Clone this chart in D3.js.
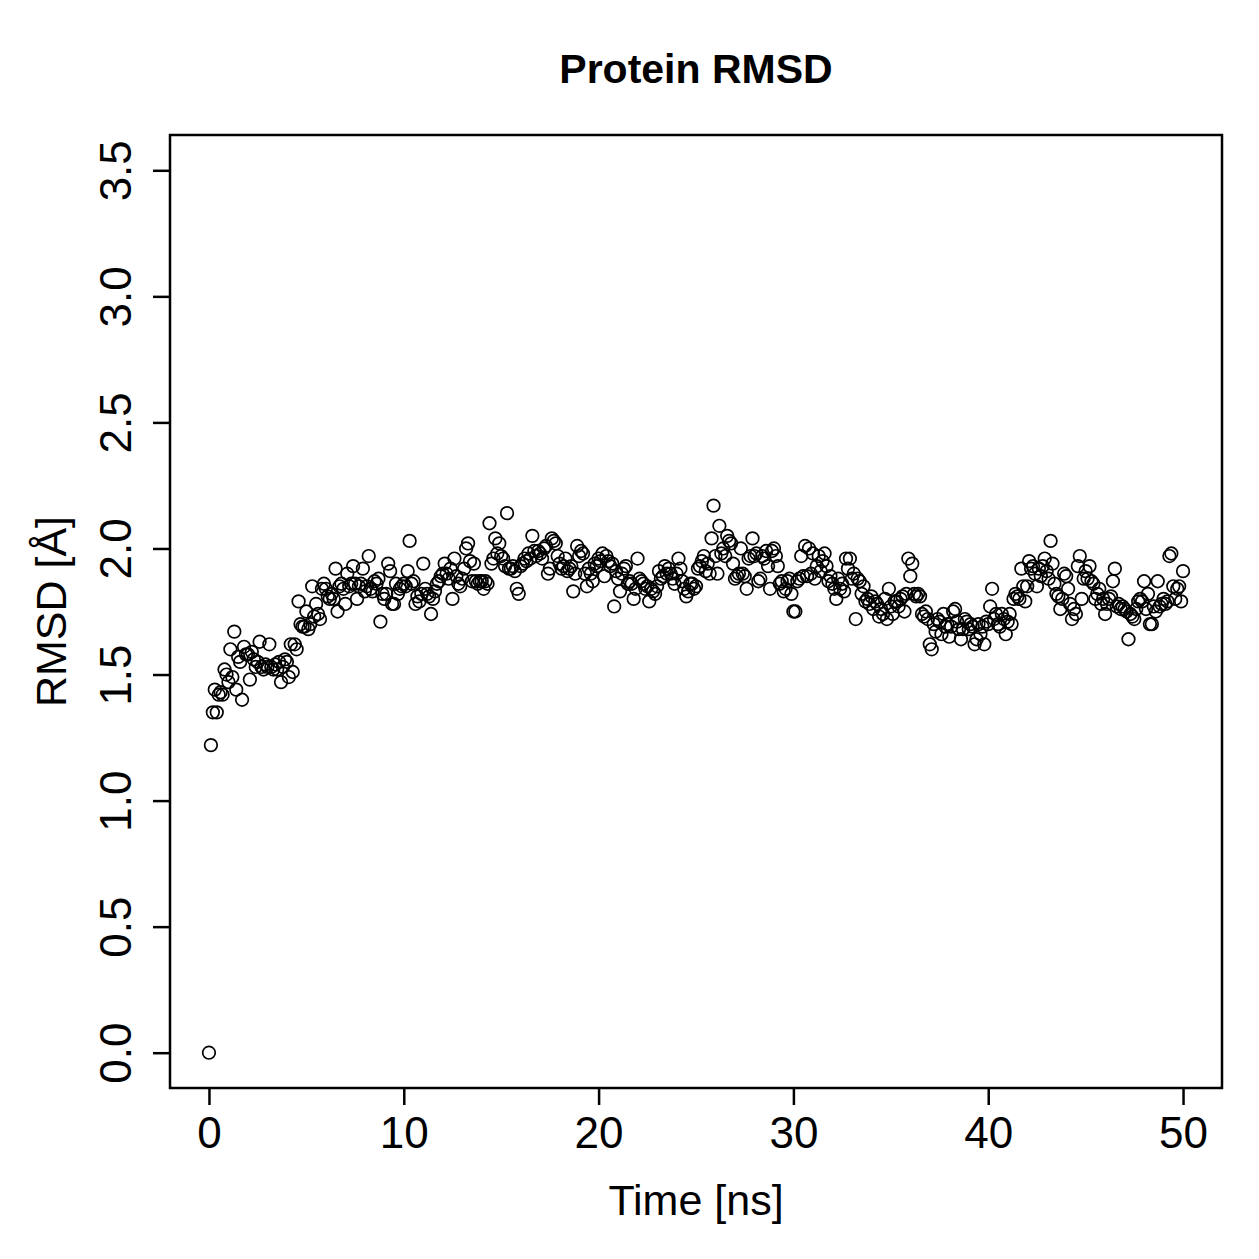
<!DOCTYPE html>
<html>
<head>
<meta charset="utf-8">
<script src="https://cdn.jsdelivr.net/npm/d3@7"></script>
<style>
  body { margin: 0; background: #fff; }
  text { font-family: "Liberation Sans", Arial, sans-serif; fill: #000; }
</style>
</head>
<body>
<svg id="chart" width="1259" height="1259"></svg>
<script>
// RMSD samples, one row per ns (10 frames, 0.1 ns apart)
const rmsd00 = [0.00, 1.22, 1.35, 1.44, 1.35, 1.42, 1.43, 1.42, 1.52, 1.50];
const rmsd01 = [1.47, 1.60, 1.49, 1.67, 1.44, 1.57, 1.55, 1.40, 1.61, 1.58];
const rmsd02 = [1.58, 1.48, 1.59, 1.56, 1.53, 1.55, 1.63, 1.53, 1.52, 1.54];
const rmsd03 = [1.53, 1.62, 1.53, 1.52, 1.54, 1.52, 1.55, 1.47, 1.53, 1.56];
const rmsd04 = [1.55, 1.49, 1.62, 1.51, 1.62, 1.60, 1.79, 1.70, 1.69, 1.69];
const rmsd05 = [1.75, 1.68, 1.70, 1.85, 1.73, 1.78, 1.74, 1.72, 1.84, 1.86];
const rmsd06 = [1.84, 1.81, 1.80, 1.82, 1.80, 1.92, 1.75, 1.85, 1.86, 1.84];
const rmsd07 = [1.78, 1.90, 1.85, 1.86, 1.93, 1.86, 1.80, 1.85, 1.86, 1.92];
const rmsd08 = [1.83, 1.85, 1.97, 1.84, 1.83, 1.87, 1.86, 1.88, 1.71, 1.82];
const rmsd09 = [1.80, 1.82, 1.94, 1.91, 1.78, 1.78, 1.86, 1.82, 1.84, 1.85];
const rmsd10 = [1.86, 1.85, 1.91, 2.03, 1.86, 1.87, 1.78, 1.81, 1.79, 1.82];
const rmsd11 = [1.94, 1.84, 1.82, 1.81, 1.74, 1.80, 1.83, 1.86, 1.87, 1.89];
const rmsd12 = [1.90, 1.94, 1.90, 1.88, 1.92, 1.80, 1.96, 1.89, 1.86, 1.85];
const rmsd13 = [1.88, 1.92, 2.00, 2.02, 1.95, 1.87, 1.94, 1.87, 1.86, 1.87];
const rmsd14 = [1.87, 1.84, 1.87, 1.86, 2.10, 1.94, 1.96, 2.04, 1.98, 2.02];
const rmsd15 = [1.97, 1.96, 1.93, 2.14, 1.92, 1.92, 1.93, 1.91, 1.84, 1.82];
const rmsd16 = [1.93, 1.94, 1.96, 1.95, 1.98, 1.96, 2.05, 1.99, 1.97, 1.99];
const rmsd17 = [1.98, 1.96, 2.00, 2.01, 1.90, 1.92, 2.04, 2.03, 2.02, 1.97];
const rmsd18 = [1.94, 1.92, 1.93, 1.96, 1.91, 1.92, 1.93, 1.83, 1.90, 2.01];
const rmsd19 = [1.97, 1.99, 1.98, 1.90, 1.85, 1.92, 1.90, 1.87, 1.94, 1.93];
const rmsd20 = [1.96, 1.95, 1.98, 1.89, 1.97, 1.95, 1.93, 1.94, 1.77, 1.91];
const rmsd21 = [1.88, 1.83, 1.90, 1.92, 1.93, 1.86, 1.87, 1.86, 1.80, 1.84];
const rmsd22 = [1.96, 1.88, 1.87, 1.86, 1.84, 1.85, 1.79, 1.84, 1.83, 1.82];
const rmsd23 = [1.85, 1.91, 1.88, 1.89, 1.93, 1.90, 1.92, 1.90, 1.88, 1.86];
const rmsd24 = [1.90, 1.96, 1.92, 1.87, 1.84, 1.81, 1.83, 1.86, 1.86, 1.84];
const rmsd25 = [1.85, 1.92, 1.93, 1.95, 1.97, 1.91, 1.94, 1.90, 2.04, 2.17];
const rmsd26 = [1.97, 1.90, 2.09, 1.98, 2.00, 1.97, 2.05, 2.03, 2.02, 1.94];
const rmsd27 = [1.88, 1.89, 1.90, 2.00, 1.90, 1.89, 1.84, 1.96, 1.97, 2.04];
const rmsd28 = [1.97, 1.98, 1.87, 1.88, 1.97, 1.96, 1.99, 1.93, 1.84, 1.99];
const rmsd29 = [2.00, 1.97, 1.93, 1.86, 1.87, 1.83, 1.84, 1.87, 1.88, 1.82];
const rmsd30 = [1.75, 1.75, 1.87, 1.88, 1.97, 1.89, 2.01, 1.89, 2.00, 1.90];
const rmsd31 = [1.98, 1.88, 1.93, 1.97, 1.91, 1.95, 1.98, 1.93, 1.87, 1.89];
const rmsd32 = [1.86, 1.84, 1.80, 1.88, 1.84, 1.86, 1.83, 1.96, 1.92, 1.96];
const rmsd33 = [1.88, 1.90, 1.72, 1.88, 1.87, 1.82, 1.85, 1.79, 1.80, 1.78];
const rmsd34 = [1.81, 1.76, 1.79, 1.78, 1.73, 1.76, 1.74, 1.80, 1.72, 1.84];
const rmsd35 = [1.77, 1.74, 1.79, 1.79, 1.77, 1.80, 1.81, 1.75, 1.82, 1.96];
const rmsd36 = [1.89, 1.94, 1.82, 1.81, 1.82, 1.81, 1.74, 1.73, 1.75, 1.72];
const rmsd37 = [1.62, 1.60, 1.70, 1.67, 1.72, 1.71, 1.66, 1.74, 1.69, 1.70];
const rmsd38 = [1.65, 1.69, 1.75, 1.76, 1.71, 1.68, 1.64, 1.68, 1.72, 1.71];
const rmsd39 = [1.68, 1.70, 1.69, 1.62, 1.64, 1.70, 1.66, 1.69, 1.62, 1.71];
const rmsd40 = [1.70, 1.77, 1.84, 1.72, 1.74, 1.70, 1.69, 1.74, 1.72, 1.66];
const rmsd41 = [1.71, 1.74, 1.70, 1.80, 1.82, 1.81, 1.80, 1.92, 1.85, 1.79];
const rmsd42 = [1.85, 1.95, 1.92, 1.93, 1.90, 1.85, 1.92, 1.89, 1.93, 1.96];
const rmsd43 = [1.91, 1.88, 2.03, 1.94, 1.86, 1.82, 1.81, 1.76, 1.80, 1.90];
const rmsd44 = [1.89, 1.84, 1.78, 1.72, 1.76, 1.74, 1.93, 1.97, 1.80, 1.88];
const rmsd45 = [1.91, 1.88, 1.93, 1.87, 1.86, 1.80, 1.82, 1.84, 1.78, 1.80];
const rmsd46 = [1.74, 1.78, 1.80, 1.81, 1.87, 1.92, 1.77, 1.78, 1.76, 1.77];
const rmsd47 = [1.76, 1.75, 1.64, 1.74, 1.73, 1.72, 1.76, 1.79, 1.80, 1.79];
const rmsd48 = [1.87, 1.76, 1.82, 1.70, 1.70, 1.77, 1.75, 1.87, 1.77, 1.78];
const rmsd49 = [1.80, 1.78, 1.79, 1.97, 1.98, 1.85, 1.80, 1.84, 1.85, 1.79];
const rmsd50 = [1.91];

const xTicks = [0, 10, 20, 30, 40, 50];
const yTicks = [0.0, 0.5, 1.0, 1.5, 2.0, 2.5, 3.0, 3.5];

const frameStep = 0.1; // ns between frames

let rmsd = [].concat(
    rmsd00, rmsd01, rmsd02, rmsd03, rmsd04, rmsd05, rmsd06, rmsd07, rmsd08, rmsd09,
    rmsd10, rmsd11, rmsd12, rmsd13, rmsd14, rmsd15, rmsd16, rmsd17, rmsd18, rmsd19,
    rmsd20, rmsd21, rmsd22, rmsd23, rmsd24, rmsd25, rmsd26, rmsd27, rmsd28, rmsd29,
    rmsd30, rmsd31, rmsd32, rmsd33, rmsd34, rmsd35, rmsd36, rmsd37, rmsd38, rmsd39,
    rmsd40, rmsd41, rmsd42, rmsd43, rmsd44, rmsd45, rmsd46, rmsd47, rmsd48, rmsd49,
    rmsd50);
let points = rmsd.map((v, i) => ({ t: +(i * frameStep).toFixed(1), v: v }));

let svg = d3.select("#chart");

let boxLeft = 170, boxRight = 1222, boxTop = 135, boxBottom = 1088;

// R-style 4% padding around the data range
let x = d3.scaleLinear().domain([-2, 52]).range([boxLeft, boxRight]);
let y = d3.scaleLinear().domain([-0.14, 3.64]).range([boxBottom, boxTop]);

let xAxis = svg.append("g")
    .attr("transform", `translate(0,${boxBottom})`)
    .call(d3.axisBottom(x).tickValues(xTicks).tickSize(17).tickPadding(12).tickFormat(d3.format("d")));
xAxis.select(".domain").remove();
xAxis.selectAll("line").attr("stroke", "#000").attr("stroke-width", 2.5);
xAxis.selectAll("text")
    .style("font-size", "44px")
    .style("font-family", "'Liberation Sans', Arial, sans-serif");

let yAxis = svg.append("g")
    .attr("transform", `translate(${boxLeft},0)`)
    .call(d3.axisLeft(y).tickValues(yTicks).tickSize(17).tickFormat(d3.format(".1f")));
yAxis.select(".domain").remove();
yAxis.selectAll("line").attr("stroke", "#000").attr("stroke-width", 2.5);
yAxis.selectAll("text")
    .attr("x", null).attr("dy", null)
    .attr("transform", "translate(-39,0) rotate(-90)")
    .attr("text-anchor", "middle")
    .attr("y", 0)
    .style("font-size", "44px")
    .style("font-family", "'Liberation Sans', Arial, sans-serif");

// plot box
svg.append("rect")
    .attr("x", boxLeft).attr("y", boxTop)
    .attr("width", boxRight - boxLeft).attr("height", boxBottom - boxTop)
    .attr("fill", "none").attr("stroke", "#000").attr("stroke-width", 2.5);

svg.append("g")
    .selectAll("circle")
    .data(points)
    .enter().append("circle")
    .attr("cx", d => x(d.t))
    .attr("cy", d => y(d.v))
    .attr("r", 6.3)
    .attr("fill", "none")
    .attr("stroke", "#000")
    .attr("stroke-width", 1.7);

svg.append("text")
    .attr("x", (boxLeft + boxRight) / 2).attr("y", 83)
    .attr("text-anchor", "middle")
    .style("font-size", "41px").style("font-weight", "bold")
    .text("Protein RMSD");

svg.append("text")
    .attr("x", (boxLeft + boxRight) / 2).attr("y", 1215)
    .attr("text-anchor", "middle")
    .style("font-size", "43px")
    .text("Time [ns]");

svg.append("text")
    .attr("transform", `translate(66,${(boxTop + boxBottom) / 2}) rotate(-90)`)
    .attr("text-anchor", "middle")
    .style("font-size", "43px")
    .text("RMSD [Å]");
</script>
</body>
</html>
